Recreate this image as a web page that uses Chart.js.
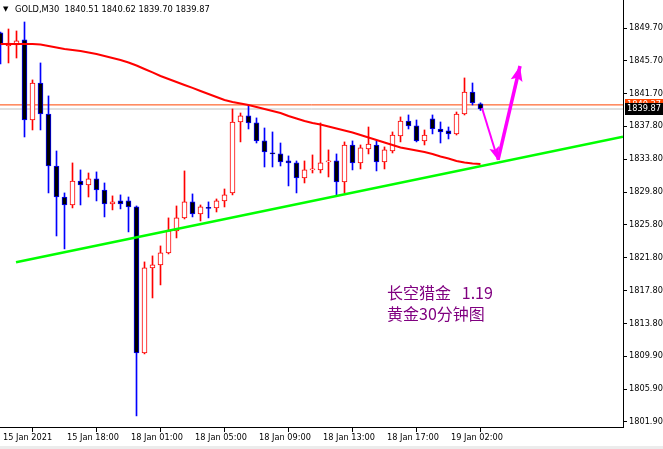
<!DOCTYPE html>
<html>
<head>
<meta charset="utf-8">
<script src="https://cdn.jsdelivr.net/npm/chart.js@4.4.1/dist/chart.umd.min.js"></script>
<style>
  html, body { margin: 0; padding: 0; background: #fff; }
  #wrap { position: relative; width: 663px; height: 446px; }
  #strip { width: 663px; height: 3px; background: #ececec; }
  #head { position: absolute; left: 15px; top: 4px; font: 8.3px/10px "DejaVu Sans", sans-serif; color: #000; white-space: pre; }
  #tri { position: absolute; left: 3px; top: 4px; font: 7px/10px "DejaVu Sans", sans-serif; color: #000; }
  .note { position: absolute; left: 387px; top: 282px; font: 16px/21px "Noto Sans CJK SC", sans-serif; color: #800080; white-space: pre; }
</style>
</head>
<body>
<div id="wrap">
  <canvas id="chart" width="663" height="446"></canvas>
  <div id="tri">▼</div>
  <div id="head">GOLD,M30  1840.51 1840.62 1839.70 1839.87</div>
  <div class="note">长空猎金   1.19
黄金30分钟图</div>
</div>
<div id="strip"></div>
<script>
// GOLD M30 candles
const opens = [1849.10, 1847.52, 1847.64, 1848.25, 1838.54, 1843.03, 1839.27, 1832.96, 1829.20, 1828.23,
  1831.14, 1830.66, 1831.39, 1830.05, 1828.35, 1828.72, 1828.72, 1827.99, 1810.28, 1820.59,
  1820.96, 1822.41, 1825.08, 1826.66, 1828.60, 1827.14, 1827.87, 1827.87, 1828.72, 1829.69,
  1838.30, 1839.03, 1838.18, 1836.00, 1834.54, 1834.42, 1833.57, 1833.33, 1831.51, 1832.48,
  1832.48, 1833.45, 1833.57, 1831.02, 1835.51, 1833.33, 1835.03, 1835.51, 1833.45, 1834.78,
  1836.60, 1838.42, 1837.82, 1836.00, 1838.67, 1837.45, 1837.21, 1836.85, 1839.27, 1841.94,
  1840.51];
const highs = [1849.22, 1849.58, 1849.34, 1850.43, 1843.40, 1845.46, 1841.46, 1834.78, 1829.69, 1833.33,
  1832.48, 1832.11, 1832.24, 1830.90, 1829.33, 1829.45, 1829.20, 1828.11, 1821.32, 1822.05,
  1823.26, 1826.66, 1828.11, 1832.36, 1829.57, 1828.23, 1828.60, 1828.96, 1830.17, 1839.88,
  1839.39, 1840.36, 1838.79, 1837.57, 1837.09, 1835.75, 1834.18, 1833.57, 1833.57, 1834.30,
  1838.18, 1834.91, 1834.42, 1835.88, 1836.00, 1835.51, 1837.69, 1836.00, 1835.27, 1837.09,
  1838.91, 1839.15, 1838.54, 1837.33, 1839.15, 1838.30, 1837.69, 1839.51, 1843.64, 1843.03,
  1840.62];
const lows = [1845.34, 1845.46, 1846.06, 1836.48, 1837.33, 1837.33, 1829.69, 1824.47, 1822.90, 1827.87,
  1828.23, 1829.20, 1828.72, 1826.78, 1827.63, 1827.75, 1824.96, 1802.64, 1810.16, 1816.95,
  1818.53, 1822.29, 1824.23, 1826.53, 1826.78, 1826.29, 1826.66, 1827.38, 1827.99, 1829.45,
  1835.88, 1837.45, 1835.75, 1832.84, 1832.84, 1832.96, 1830.54, 1829.69, 1830.90, 1832.11,
  1832.11, 1831.63, 1829.45, 1829.69, 1832.48, 1832.60, 1834.42, 1832.36, 1832.60, 1834.54,
  1835.88, 1837.45, 1835.88, 1835.51, 1836.85, 1835.75, 1836.24, 1836.72, 1839.15, 1840.36,
  1839.70];
const closes = [1847.64, 1847.88, 1848.13, 1838.54, 1843.03, 1839.27, 1832.96, 1829.20, 1828.23, 1831.14,
  1830.66, 1831.39, 1830.05, 1828.35, 1828.60, 1828.35, 1827.99, 1810.28, 1820.59, 1820.96,
  1822.41, 1825.08, 1826.66, 1828.60, 1827.14, 1827.99, 1827.81, 1828.72, 1829.45, 1838.30,
  1839.03, 1838.18, 1836.00, 1834.66, 1834.42, 1833.45, 1833.33, 1831.51, 1832.48, 1832.60,
  1833.33, 1833.57, 1831.02, 1835.51, 1833.33, 1835.15, 1835.63, 1833.45, 1834.91, 1836.72,
  1838.42, 1837.82, 1836.00, 1836.72, 1837.45, 1837.09, 1836.85, 1839.27, 1841.94, 1840.61,
  1839.87];
// moving average (red line)
const maValues = [1847.76, 1847.76, 1847.76, 1847.76, 1847.76, 1847.70, 1847.52, 1847.34, 1847.16, 1847.03,
  1846.91, 1846.73, 1846.55, 1846.31, 1846.06, 1845.82, 1845.52, 1845.15, 1844.73, 1844.31,
  1843.88, 1843.52, 1843.15, 1842.79, 1842.43, 1842.06, 1841.70, 1841.33, 1840.97, 1840.73,
  1840.55, 1840.36, 1840.12, 1839.88, 1839.64, 1839.39, 1839.03, 1838.73, 1838.42, 1838.18,
  1838.00, 1837.76, 1837.51, 1837.27, 1837.03, 1836.72, 1836.42, 1836.12, 1835.81, 1835.51,
  1835.21, 1835.03, 1834.84, 1834.66, 1834.42, 1834.12, 1833.87, 1833.57, 1833.39, 1833.27,
  1833.21];

// green trend line and magenta arrows (bar index, price)
const trendX = [1.94, 77.81];
const trendY = [1821.28, 1836.52];
const arrowX = [60.19, 62.19, 64.94];
const arrowY = [1840.00, 1833.69, 1845.09];

const askPrice = 1840.37;
const bidPrice = 1839.87;

const yTicks = [1849.70, 1845.70, 1841.70, 1837.80, 1833.80, 1829.80, 1825.80, 1821.80, 1817.80, 1813.80, 1809.90, 1805.90, 1801.90];
const xTickIdx = [0, 8, 16, 24, 32, 40, 48, 56];
const xTickLabels = ["15 Jan 2021", "15 Jan 18:00", "18 Jan 01:00", "18 Jan 05:00", "18 Jan 09:00", "18 Jan 13:00", "18 Jan 17:00", "19 Jan 02:00"];

const X_MIN = -0.0625, X_MAX = 77.8125;
const Y_MIN = 1801.293, Y_MAX = 1853.097;
const axisFont = { family: "DejaVu Sans", size: 8.2 };

const up = opens.map((o, i) => closes[i] >= o);
const wicks = highs.map((h, i) => ({ x: i, y: [lows[i], h] }));
const bodies = opens.map((o, i) => ({ x: i, y: [o, closes[i]] }));

const arrowHeads = {
  id: "arrowHeads",
  afterDatasetsDraw(chart) {
    const ctx = chart.ctx;
    chart.data.datasets.forEach((ds, di) => {
      if (!ds.headSize) return;
      const pts = chart.getDatasetMeta(di).data;
      const a = pts[pts.length - 2], b = pts[pts.length - 1];
      const ang = Math.atan2(b.y - a.y, b.x - a.x);
      const [len, half] = ds.headSize;
      ctx.save();
      ctx.translate(b.x, b.y);
      ctx.rotate(ang);
      ctx.fillStyle = ds.borderColor;
      ctx.beginPath();
      ctx.moveTo(0, 0);
      ctx.lineTo(-len, -half);
      ctx.lineTo(-len * 0.8, 0);
      ctx.lineTo(-len, half);
      ctx.closePath();
      ctx.fill();
      ctx.restore();
    });
  }
};

const priceTags = {
  id: "priceTags",
  afterDraw(chart) {
    const { ctx, chartArea, scales } = chart;
    [[askPrice, "#ff4500"], [bidPrice, "#000000"]].forEach(([v, bg]) => {
      const py = Math.round(scales.y.getPixelForValue(v));
      ctx.fillStyle = bg;
      ctx.fillRect(chartArea.right + 2, py - 6, chart.width - chartArea.right - 2, 12);
      ctx.fillStyle = "#fff";
      ctx.font = '8.2px "DejaVu Sans"';
      ctx.textBaseline = "middle";
      ctx.fillText(v.toFixed(2), chartArea.right + 4, py);
    });
  }
};

new Chart(document.getElementById("chart"), {
  type: "bar",
  data: {
    datasets: [
      {
        type: "line",
        data: [{ x: X_MIN, y: bidPrice }, { x: X_MAX, y: bidPrice }],
        borderColor: "#c0c0c0", borderWidth: 1, pointRadius: 0, order: 6,
      },
      {
        type: "line",
        data: [{ x: X_MIN, y: askPrice }, { x: X_MAX, y: askPrice }],
        borderColor: "#ff4500", borderWidth: 1, pointRadius: 0, order: 5,
      },
      {
        data: wicks,
        backgroundColor: up.map((u) => (u ? "#ff0000" : "#0000ff")),
        barThickness: 1, grouped: false, order: 4,
      },
      {
        data: bodies,
        backgroundColor: up.map((u) => (u ? "#ffffff" : "#000000")),
        borderColor: up.map((u) => (u ? "#ff0000" : "#0000ff")),
        borderWidth: 1, borderSkipped: false, minBarLength: 1,
        barThickness: 5, grouped: false, order: 3,
      },
      {
        type: "line",
        data: maValues.map((v, i) => ({ x: i, y: v })),
        borderColor: "#ff0000", borderWidth: 2, pointRadius: 0, order: 2,
      },
      {
        type: "line",
        data: trendX.map((x, i) => ({ x, y: trendY[i] })),
        borderColor: "#00ff00", borderWidth: 2.5, pointRadius: 0, order: 1,
      },
      {
        type: "line",
        data: [0, 1].map((i) => ({ x: arrowX[i], y: arrowY[i] })),
        borderColor: "#ff00ff", borderWidth: 2, pointRadius: 0, order: 0,
        headSize: [13, 5],
      },
      {
        type: "line",
        data: [1, 2].map((i) => ({ x: arrowX[i], y: arrowY[i] })),
        borderColor: "#ff00ff", borderWidth: 3.5, pointRadius: 0, order: 0,
        headSize: [15, 6],
      },
    ],
  },
  options: {
    responsive: false,
    animation: false,
    layout: { padding: 0 },
    plugins: { legend: { display: false }, tooltip: { enabled: false } },
    scales: {
      x: {
        type: "linear",
        min: X_MIN,
        max: X_MAX,
        offset: false,
        grid: { drawOnChartArea: false, tickLength: 5, tickColor: "#000" },
        border: { color: "#000", width: 1 },
        ticks: {
          autoSkip: false,
          maxRotation: 0,
          align: "start",
          padding: 1,
          color: "#000",
          font: axisFont,
          callback: (v) => " " + xTickLabels[xTickIdx.indexOf(v)],
        },
        afterBuildTicks: (s) => { s.ticks = xTickIdx.map((v) => ({ value: v })); },
        afterFit: (s) => { s.height = 19; s.paddingLeft = 0; s.paddingRight = 0; },
      },
      y: {
        position: "right",
        min: Y_MIN,
        max: Y_MAX,
        grid: { drawOnChartArea: false, tickLength: 4, tickColor: "#000" },
        border: { color: "#000", width: 1 },
        ticks: {
          autoSkip: false,
          padding: 2,
          color: "#000",
          font: axisFont,
          callback: (v) => v.toFixed(2),
        },
        afterBuildTicks: (s) => { s.ticks = yTicks.map((v) => ({ value: v })); },
        afterFit: (s) => { s.width = 40; s.paddingTop = 0; s.paddingBottom = 0; },
      },
    },
  },
  plugins: [arrowHeads, priceTags],
});
</script>
</body>
</html>
